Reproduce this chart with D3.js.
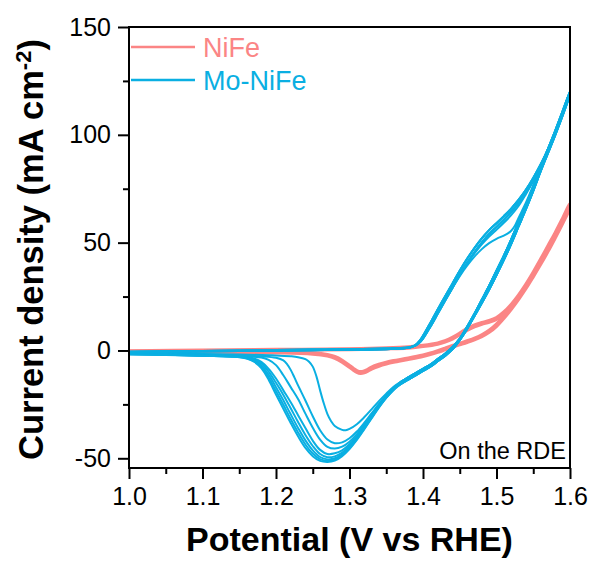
<!DOCTYPE html>
<html>
<head>
<meta charset="utf-8">
<script src="https://cdn.jsdelivr.net/npm/d3@7"></script>
<style>
  body { margin: 0; background: #fff; }
  svg { font-family: "Liberation Sans", Arial, sans-serif; }
</style>
</head>
<body>
<div id="vis-container"></div>
<script>
/* CV curves, NiFe vs Mo-NiFe */

const xTicks = [1.0, 1.1, 1.2, 1.3, 1.4, 1.5, 1.6];
const xMinor = [1.05, 1.15, 1.25, 1.35, 1.45, 1.55];
const yTicks = [-50, 0, 50, 100, 150];
const yMinor = [-25, 25, 75, 125];

// NiFe: [potential V, current mA cm-2]
const niFeForwardA = [[1.00,-0.2],[1.10,0.1],[1.20,0.4],[1.30,0.7],[1.35,1.1],[1.38,1.6],[1.40,2.3],[1.42,3.4],[1.43,4.4],[1.44,6],[1.45,8],[1.46,10.2],[1.47,11.8],[1.48,12.9],[1.49,13.8],[1.50,15.2],[1.51,17.8],[1.52,21.3],[1.53,25.6],[1.54,30.6],[1.55,36.2],[1.56,42.2],[1.57,48.4],[1.58,54.6],[1.59,61.2],[1.60,68]];
const niFeReturnA = [[1.60,67.2],[1.59,60],[1.58,53.4],[1.57,47],[1.56,41],[1.55,35.3],[1.54,29.8],[1.53,24.8],[1.52,20.2],[1.51,16],[1.50,12.2],[1.49,9.3],[1.48,7.2],[1.47,5.6],[1.46,4.4],[1.45,3.3],[1.44,2.2],[1.43,1],[1.42,-0.2],[1.41,-1.3],[1.40,-2.2],[1.38,-3.6],[1.36,-4.8],[1.35,-5.5],[1.34,-6.5],[1.33,-7.8],[1.325,-8.8],[1.32,-9.6],[1.315,-9.9],[1.31,-9.4],[1.305,-8.3],[1.30,-7],[1.29,-4.6],[1.28,-2.9],[1.27,-2],[1.25,-1.2],[1.20,-0.6],[1.10,-0.4],[1.00,-0.4]];
const niFeForwardB = [[1.00,-0.5],[1.10,-0.2],[1.20,0.1],[1.30,0.4],[1.35,0.8],[1.38,1.2],[1.40,1.9],[1.42,3],[1.43,4],[1.44,5.4],[1.45,7.3],[1.46,9.4],[1.47,11],[1.48,12.2],[1.49,13.2],[1.50,14.5],[1.51,16.9],[1.52,20.2],[1.53,24.4],[1.54,29.3],[1.55,34.8],[1.56,40.8],[1.57,47],[1.58,53.3],[1.59,60],[1.60,66.8]];
const niFeReturnB = [[1.60,66.2],[1.59,59],[1.58,52.4],[1.57,46],[1.56,40],[1.55,34.3],[1.54,28.8],[1.53,23.8],[1.52,19.2],[1.51,15],[1.50,11.3],[1.49,8.5],[1.48,6.5],[1.47,5],[1.46,3.8],[1.45,2.7],[1.44,1.6],[1.43,0.4],[1.42,-0.8],[1.41,-1.8],[1.40,-2.7],[1.38,-4.1],[1.36,-5.4],[1.35,-6.2],[1.34,-7.2],[1.33,-8.5],[1.325,-9.5],[1.32,-10.3],[1.315,-10.6],[1.31,-10.1],[1.305,-9],[1.30,-7.7],[1.29,-5.3],[1.28,-3.5],[1.27,-2.5],[1.25,-1.6],[1.20,-1],[1.10,-0.7],[1.00,-0.7]];

// Mo-NiFe anodic sweeps
const moFwdFirst = [[1.00,-0.7],[1.05,-0.5],[1.10,-0.3],[1.15,-0.1],[1.20,0.1],[1.25,0.3],[1.30,0.5],[1.35,0.8],[1.37,1.0],[1.38,1.3],[1.385,1.7],[1.39,2.4],[1.395,3.8],[1.40,6],[1.41,11.5],[1.42,17.5],[1.43,23.5],[1.44,29],[1.45,34.5],[1.46,39.3],[1.47,43.5],[1.48,47],[1.49,49.8],[1.50,51.8],[1.51,53.3],[1.515,54.2],[1.52,55.5],[1.525,57.8],[1.53,61.5],[1.54,68.5],[1.55,76.5],[1.56,85],[1.57,93.5],[1.58,102],[1.59,111],[1.60,120]];
const moFwdSecond = [[1.00,-0.8],[1.05,-0.6],[1.10,-0.4],[1.15,-0.2],[1.20,0],[1.25,0.2],[1.30,0.4],[1.35,0.7],[1.37,1.0],[1.38,1.3],[1.385,1.8],[1.39,2.5],[1.395,4],[1.40,6.3],[1.41,12],[1.42,18],[1.43,24],[1.44,30],[1.45,35.6],[1.46,40.5],[1.47,45],[1.48,49.2],[1.49,52.8],[1.50,56],[1.51,59.2],[1.52,62.8],[1.53,67],[1.54,72.5],[1.55,78.5],[1.56,85],[1.57,92.5],[1.58,100.8],[1.59,110],[1.60,120]];
const moFwdBundle = [[1.00,-0.9],[1.05,-0.7],[1.10,-0.5],[1.15,-0.3],[1.20,-0.1],[1.25,0.1],[1.30,0.3],[1.35,0.6],[1.37,0.9],[1.38,1.2],[1.385,1.7],[1.39,2.6],[1.395,4.3],[1.40,6.8],[1.41,12.8],[1.42,19],[1.43,25],[1.44,31],[1.45,37],[1.46,42.5],[1.47,47.5],[1.48,52],[1.49,55.8],[1.50,59],[1.51,62.3],[1.52,65.8],[1.53,69.8],[1.54,74.5],[1.55,80],[1.56,86.2],[1.57,93.2],[1.58,101.2],[1.59,110.2],[1.60,120]];
const moFwdBundleLow = [[1.00,-0.6],[1.05,-0.4],[1.10,-0.2],[1.15,0],[1.20,0.2],[1.25,0.4],[1.30,0.6],[1.35,0.9],[1.37,1.1],[1.38,1.4],[1.385,1.8],[1.39,2.4],[1.395,3.6],[1.40,5.5],[1.41,11],[1.42,17],[1.43,23],[1.44,29],[1.45,35],[1.46,40.5],[1.47,45.5],[1.48,50],[1.49,54],[1.50,57.3],[1.51,60.6],[1.52,64.2],[1.53,68.3],[1.54,73.2],[1.55,78.8],[1.56,85.2],[1.57,92.4],[1.58,100.6],[1.59,109.8],[1.60,119.5]];

// Mo-NiFe cathodic sweeps, upper part
const moRetUpper = [[1.60,120],[1.59,111],[1.58,102],[1.57,93.5],[1.56,85],[1.55,76],[1.54,67.5],[1.53,59.5],[1.52,51.5],[1.51,44],[1.50,37],[1.49,30],[1.48,23.5],[1.47,17],[1.46,11],[1.45,5.5],[1.44,1.5],[1.43,-1.5],[1.42,-4],[1.41,-6.5],[1.40,-8.5],[1.39,-10.5],[1.38,-12.5],[1.37,-14.5]];
const moRetUpperLow = [[1.60,119],[1.59,109],[1.58,100],[1.57,91.5],[1.56,83],[1.55,74],[1.54,65.5],[1.53,57.5],[1.52,49.5],[1.51,42],[1.50,35],[1.49,28.3],[1.48,22],[1.47,16],[1.46,10],[1.45,4.8],[1.44,0.5],[1.43,-2.5],[1.42,-5],[1.41,-7.5],[1.40,-9.5],[1.39,-11.5],[1.38,-13.5],[1.37,-15.5]];

// Mo-NiFe cathodic sweeps, reduction peak, cycle 1..8
const moCath1 = [[1.36,-16.8],[1.35,-20],[1.34,-23.5],[1.33,-27.3],[1.32,-31],[1.31,-34.2],[1.30,-36.4],[1.295,-37],[1.29,-36.8],[1.28,-35],[1.275,-32.8],[1.27,-29.5],[1.265,-24.5],[1.26,-18.5],[1.255,-12],[1.25,-7.5],[1.245,-5.2],[1.24,-4],[1.23,-3.1],[1.22,-2.7],[1.20,-2.3],[1.15,-1.9],[1.10,-1.6],[1.05,-1.4],[1.00,-1.2]];
const moCath2 = [[1.36,-17.3],[1.35,-20.8],[1.34,-24.8],[1.33,-29.2],[1.32,-33.6],[1.31,-37.6],[1.30,-40.7],[1.29,-42.6],[1.28,-43],[1.27,-41.3],[1.26,-37],[1.25,-30.5],[1.24,-23.2],[1.23,-16.2],[1.225,-12.5],[1.22,-9],[1.215,-6.3],[1.21,-4.6],[1.20,-3.4],[1.18,-2.7],[1.15,-2.3],[1.10,-1.9],[1.05,-1.6],[1.00,-1.3]];
const moCath3 = [[1.36,-17.6],[1.35,-21.2],[1.34,-25.3],[1.33,-29.8],[1.32,-34.4],[1.31,-38.8],[1.30,-42.3],[1.29,-44.6],[1.28,-45.5],[1.27,-44.7],[1.26,-41.3],[1.25,-35.8],[1.24,-29.3],[1.23,-22.5],[1.22,-17],[1.21,-11.5],[1.20,-6.8],[1.19,-4.4],[1.18,-3.3],[1.15,-2.5],[1.10,-2.1],[1.05,-1.8],[1.00,-1.5]];
const moCath4 = [[1.36,-17.8],[1.35,-21.4],[1.34,-25.6],[1.33,-30.3],[1.32,-35.1],[1.31,-39.7],[1.30,-43.5],[1.29,-46.3],[1.28,-47.7],[1.27,-48],[1.26,-46.1],[1.25,-41.8],[1.24,-36],[1.23,-30],[1.22,-24],[1.21,-18.5],[1.20,-13],[1.19,-8.5],[1.18,-5.3],[1.17,-3.7],[1.15,-2.7],[1.10,-2.2],[1.05,-1.8],[1.00,-1.5]];
const moCath5 = [[1.36,-18],[1.35,-21.6],[1.34,-25.9],[1.33,-30.7],[1.32,-35.6],[1.31,-40.3],[1.30,-44.3],[1.29,-47.4],[1.28,-49.1],[1.27,-49.5],[1.26,-48],[1.25,-44.3],[1.24,-39.2],[1.23,-33.2],[1.22,-26.8],[1.21,-20.6],[1.20,-15],[1.19,-9.8],[1.18,-6],[1.17,-4.1],[1.16,-3.2],[1.15,-2.8],[1.10,-2.3],[1.05,-1.9],[1.00,-1.6]];
const moCath6 = [[1.36,-18.1],[1.35,-21.8],[1.34,-26.1],[1.33,-31],[1.32,-36],[1.31,-40.8],[1.30,-44.9],[1.29,-48.1],[1.28,-50],[1.27,-50.5],[1.26,-49.4],[1.25,-46.3],[1.24,-41.7],[1.23,-35.9],[1.22,-29.6],[1.21,-23.1],[1.20,-17],[1.19,-11.2],[1.18,-6.9],[1.17,-4.5],[1.16,-3.4],[1.15,-2.9],[1.10,-2.4],[1.05,-2],[1.00,-1.7]];
const moCath7 = [[1.36,-18.2],[1.35,-21.9],[1.34,-26.3],[1.33,-31.2],[1.32,-36.3],[1.31,-41.1],[1.30,-45.3],[1.29,-48.5],[1.28,-50.6],[1.27,-51.2],[1.26,-50.4],[1.25,-47.8],[1.24,-43.6],[1.23,-38],[1.22,-31.8],[1.21,-25.2],[1.20,-18.8],[1.19,-12.5],[1.18,-7.6],[1.17,-4.9],[1.16,-3.6],[1.15,-3],[1.10,-2.4],[1.05,-2],[1.00,-1.7]];
const moCath8 = [[1.36,-18.3],[1.35,-22],[1.34,-26.5],[1.33,-31.5],[1.32,-36.6],[1.31,-41.5],[1.30,-45.7],[1.29,-49],[1.28,-51.1],[1.27,-51.7],[1.26,-51.2],[1.25,-49],[1.24,-45.2],[1.23,-39.8],[1.22,-33.6],[1.21,-27],[1.20,-20.4],[1.19,-13.6],[1.18,-8.2],[1.17,-5.2],[1.16,-3.8],[1.15,-3.1],[1.10,-2.5],[1.05,-2.1],[1.00,-1.8]];

const niFeCycles = [
  [niFeForwardA, niFeReturnA],
  [niFeForwardB, niFeReturnB]
];
const moCycles = [
  [moFwdFirst, moRetUpper, moCath1],
  [moFwdSecond, moRetUpperLow, moCath2],
  [moFwdBundleLow, moRetUpper, moCath3],
  [moFwdBundle, moRetUpperLow, moCath4],
  [moFwdBundleLow, moRetUpper, moCath5],
  [moFwdBundle, moRetUpperLow, moCath6],
  [moFwdBundle, moRetUpper, moCath7],
  [moFwdBundleLow, moRetUpperLow, moCath8]
];

const red = "#fb8585", blue = "#0aafe2";

let width = 595, height = 563;
let margin = {top: 27, right: 25, bottom: 95, left: 129};

let x = d3.scaleLinear().domain([1.0, 1.6]).range([margin.left, width - margin.right]);
let y = d3.scaleLinear().domain([-54.5, 150]).range([height - margin.bottom, margin.top]);

let svg = d3.select('#vis-container')
  .append('svg')
  .attr('width', width)
  .attr('height', height);

svg.append("rect").attr("width", width).attr("height", height).attr("fill", "#fff");

svg.append("clipPath").attr("id", "plot-clip")
  .append("rect")
  .attr("x", x(1.0)).attr("y", y(150))
  .attr("width", x(1.6) - x(1.0)).attr("height", y(-54.5) - y(150));

let line = d3.line()
  .x(d => x(d[0]))
  .y(d => y(d[1]))
  .curve(d3.curveCatmullRom.alpha(0.5));

let plot = svg.append("g").attr("clip-path", "url(#plot-clip)");

niFeCycles.forEach(c => {
  plot.append("path")
    .datum([].concat(...c))
    .attr("fill", "none")
    .attr("stroke", red)
    .attr("stroke-width", 3.5)
    .attr("stroke-linejoin", "round")
    .attr("d", line);
});

moCycles.forEach(c => {
  plot.append("path")
    .datum([].concat(...c))
    .attr("fill", "none")
    .attr("stroke", blue)
    .attr("stroke-width", 2)
    .attr("stroke-linejoin", "round")
    .attr("d", line);
});

// frame
svg.append("rect")
  .attr("x", x(1.0)).attr("y", y(150))
  .attr("width", x(1.6) - x(1.0)).attr("height", y(-54.5) - y(150))
  .attr("fill", "none").attr("stroke", "#000").attr("stroke-width", 2);

// axes
let gx = svg.append("g").attr("transform", `translate(0,${y(-54.5)})`);
gx.call(d3.axisBottom(x).tickValues(xTicks).tickSize(11).tickPadding(8).tickFormat(d3.format(".1f")));
gx.append("g").call(d3.axisBottom(x).tickValues(xMinor).tickSize(6).tickFormat(""));

let gy = svg.append("g").attr("transform", `translate(${x(1.0)},0)`);
gy.call(d3.axisLeft(y).tickValues(yTicks).tickSize(11).tickPadding(7).tickFormat(d => String(d)));
gy.append("g").call(d3.axisLeft(y).tickValues(yMinor).tickSize(6).tickFormat(""));

svg.selectAll(".domain").remove();
svg.selectAll(".tick line").attr("stroke", "#000").attr("stroke-width", 2);
svg.selectAll(".tick text")
  .attr("fill", "#000")
  .style("font-size", "25px")
  .style("font-family", "'Liberation Sans', Arial, sans-serif");

// axis titles
svg.append("text")
  .attr("x", (x(1.0) + x(1.6)) / 2)
  .attr("y", 551)
  .attr("text-anchor", "middle")
  .style("font-size", "34px")
  .style("font-weight", "bold")
  .text("Potential (V vs RHE)");

let yt = svg.append("text")
  .attr("transform", `translate(43,${(y(150) + y(-54.5)) / 2 + 2}) rotate(-90)`)
  .attr("text-anchor", "middle")
  .style("font-size", "34.5px")
  .style("font-weight", "bold");
yt.append("tspan").text("Current density (mA cm");
yt.append("tspan").attr("baseline-shift", "super").style("font-size", "22px").text("-2");
yt.append("tspan").text(")");

// legend
let legend = [{name: "NiFe", color: red, y: 47}, {name: "Mo-NiFe", color: blue, y: 80}];
legend.forEach(l => {
  svg.append("line")
    .attr("x1", 131).attr("x2", 195)
    .attr("y1", l.y).attr("y2", l.y)
    .attr("stroke", l.color).attr("stroke-width", 2.5);
  svg.append("text")
    .attr("x", 203).attr("y", l.y + 9.5)
    .attr("fill", l.color)
    .style("font-size", "27px")
    .text(l.name);
});

svg.append("text")
  .attr("x", 566).attr("y", 459)
  .attr("text-anchor", "end")
  .style("font-size", "23.5px")
  .text("On the RDE");
</script>
</body>
</html>
